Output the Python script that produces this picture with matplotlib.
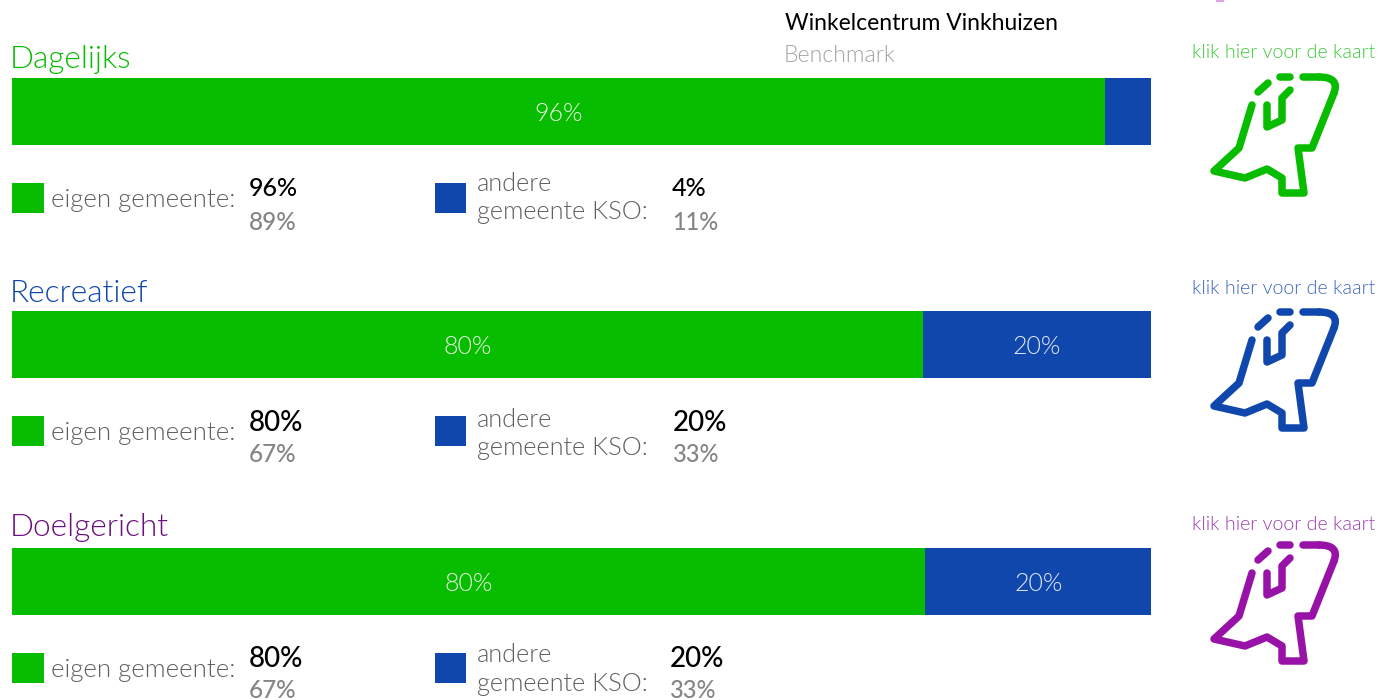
import matplotlib
matplotlib.use('Agg')
import matplotlib.pyplot as plt
from matplotlib.patches import Rectangle
from matplotlib.path import Path
from matplotlib.patches import PathPatch

plt.rcParams['font.family'] = ['Lato', 'DejaVu Sans']

titles = ['Dagelijks', 'Recreatief', 'Doelgericht']
title_colors = ['#08bc00', '#1047ad', '#6a0f7e']
link_colors = ['#3ec93a', '#3f66bd', '#9a3fb0']
icon_colors = ['#08bc00', '#1047ad', '#9812a8']
own_values = [96, 80, 80.2]
other_values = [4, 20, 19.8]
own_labels = ['96%', '80%', '80%']
other_labels = ['', '20%', '20%']
own_current = ['96%', '80%', '80%']
own_bench = ['89%', '67%', '67%']
other_current = ['4%', '20%', '20%']
other_bench = ['11%', '33%', '33%']

GREEN = '#08bc00'
BLUE = '#1047ad'
W, H = 1391, 700

# pixel layout per block
title_y = [60, 294, 528]
bar_top = [78, 311, 548]
link_y = [53, 289, 524]
icon_dy = [0, 235, 468]
row_y = [198, 431, 668]
other_y1 = [184, 420, 655]
other_y2 = [212, 448, 684]
cur_y = [189, 423, 659]
ben_y = [222, 455, 691]
other_x = [672, 673, 670]
cur_size = [18, 20, 20]
bar_h = 67

# icon outline, in pixels of the first block
icon_main = [(1252, 105), (1239, 148), (1214, 171), (1245, 178), (1267, 169), (1282, 178),
             (1282, 193), (1304, 193), (1298, 148), (1312, 148), (1334, 93)]
icon_inner = [(1267, 105), (1267, 127), (1282, 120), (1282, 98), (1290, 90)]
icon_top1 = [(1258, 92), (1268, 83)]
icon_top2 = [(1280, 77), (1290, 77)]
icon_top3 = [(1303, 77), (1319, 77)]

fig = plt.figure(figsize=(W / 100, H / 100), dpi=100)
bg = fig.add_axes([0, 0, 1, 1])
bg.set_xlim(0, W)
bg.set_ylim(H, 0)
bg.axis('off')


def draw_line(pts, color, dy):
    bg.plot([p[0] for p in pts], [p[1] + dy for p in pts], color=color, lw=5.4,
            solid_capstyle='round', solid_joinstyle='round', zorder=3)


def draw_icon(color, dy):
    draw_line(icon_main, color, dy)
    # rounded corner at the top right
    verts = [(1334, 93 + dy), (1340, 77 + dy), (1319, 77 + dy)]
    bg.add_patch(PathPatch(Path(verts, [Path.MOVETO, Path.CURVE3, Path.CURVE3]), fill=False,
                           edgecolor=color, lw=5.4, capstyle='round'))
    draw_line(icon_inner, color, dy)
    draw_line(icon_top1, color, dy)
    draw_line(icon_top2, color, dy)
    draw_line(icon_top3, color, dy)


for i in range(3):
    # the stacked bar
    ax = fig.add_axes([12 / W, 1 - (bar_top[i] + bar_h) / H, 1139 / W, bar_h / H])
    ax.barh([0], [own_values[i]], height=1, color=GREEN)
    ax.barh([0], [other_values[i]], left=[own_values[i]], height=1, color=BLUE)
    ax.set_xlim(0, 100)
    ax.set_ylim(-0.5, 0.5)
    ax.axis('off')
    ax.text(own_values[i] / 2, -0.03, own_labels[i], color='#e6f7e4', fontsize=18, fontweight=300,
            ha='center', va='center')
    if other_labels[i]:
        ax.text(own_values[i] + other_values[i] / 2, -0.03, other_labels[i], color='#e3e8f5', fontsize=18,
                fontweight=300, ha='center', va='center')

    bg.text(10, title_y[i], titles[i], color=title_colors[i], fontsize=22.8, fontweight=300,
            va='center', ha='left')
    bg.text(1284, link_y[i], 'klik hier voor de kaart', color=link_colors[i], fontsize=14.1,
            fontweight=300, va='center', ha='center')
    draw_icon(icon_colors[i], icon_dy[i])

    # legend rows under the bar
    bg.add_patch(Rectangle((12, row_y[i] - 15), 32, 30, color=GREEN, lw=0))
    bg.text(51, row_y[i] + 2, 'eigen gemeente:', color='#5f5f5f', fontsize=18.6, fontweight=300,
            va='center', ha='left')
    bg.text(249, cur_y[i], own_current[i], color='black', fontsize=cur_size[i], fontweight=500,
            va='center', ha='left')
    bg.text(249, ben_y[i], own_bench[i], color='#858585', fontsize=17.5, fontweight=500, va='center', ha='left')

    bg.add_patch(Rectangle((435, row_y[i] - 15), 31, 30, color=BLUE, lw=0))
    bg.text(477, other_y1[i], 'andere', color='#5f5f5f', fontsize=18.2, fontweight=300,
            va='center', ha='left')
    bg.text(477, other_y2[i], 'gemeente KSO:', color='#5f5f5f', fontsize=18.2, fontweight=300,
            va='center', ha='left')
    bg.text(other_x[i], cur_y[i], other_current[i], color='black', fontsize=cur_size[i], fontweight=500,
            va='center', ha='left')
    bg.text(other_x[i], ben_y[i], other_bench[i], color='#858585', fontsize=17, fontweight=500,
            va='center', ha='left')

bg.text(785, 23, 'Winkelcentrum Vinkhuizen', color='black', fontsize=16.5, va='center', ha='left')
bg.text(784, 55, 'Benchmark', color='#a3a3a3', fontsize=16.7, fontweight=300, va='center', ha='left')

# leftover of a cut-off icon at the top edge
bg.add_patch(Rectangle((1216, -3), 8, 4.5, color='#e2a3ea', lw=0))

fig.savefig('out.png', dpi=100)
